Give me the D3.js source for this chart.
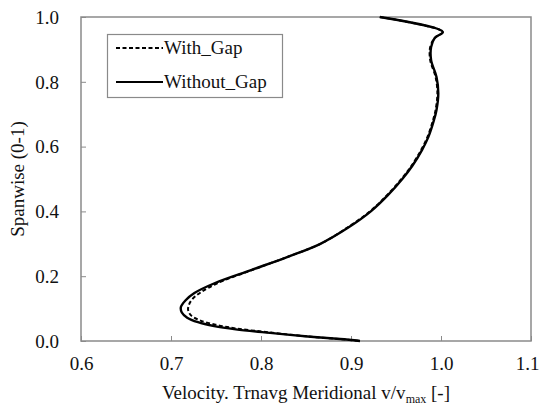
<!DOCTYPE html>
<html>
<head>
<meta charset="utf-8">
<script src="https://cdn.jsdelivr.net/npm/d3@7/dist/d3.min.js"></script>
<style>
  html, body { margin: 0; padding: 0; background: #fff; }
  svg text { font-family: "Times New Roman", Times, "Liberation Serif", "DejaVu Serif", serif; }
</style>
</head>
<body>
<svg id="chart" width="540" height="405"></svg>
<script>
// Spanwise positions (0 = hub, 1 = tip) and the normalised meridional velocity at each
const spanWithout = [1.000, 0.954, 0.935, 0.907, 0.867, 0.815, 0.765, 0.713, 0.680, 0.630, 0.590, 0.540, 0.500, 0.450, 0.400, 0.350, 0.300, 0.259, 0.219, 0.179, 0.148, 0.125, 0.105, 0.088, 0.072, 0.058, 0.046, 0.036, 0.025, 0.014, 0.006, 0.000];
const velWithout  = [0.932, 1.002, 0.993, 0.989, 0.989, 0.995, 0.997, 0.995, 0.992, 0.986, 0.979, 0.968, 0.957, 0.941, 0.922, 0.897, 0.866, 0.829, 0.789, 0.749, 0.726, 0.716, 0.711, 0.712, 0.718, 0.730, 0.748, 0.772, 0.810, 0.852, 0.888, 0.910];

const spanWith = [1.000, 0.954, 0.935, 0.907, 0.867, 0.815, 0.765, 0.713, 0.680, 0.630, 0.590, 0.540, 0.500, 0.450, 0.400, 0.350, 0.300, 0.259, 0.219, 0.179, 0.150, 0.130, 0.112, 0.096, 0.080, 0.064, 0.050, 0.038, 0.026, 0.014, 0.006, 0.000];
const velWith  = [0.932, 1.002, 0.993, 0.988, 0.988, 0.994, 0.996, 0.994, 0.991, 0.985, 0.978, 0.967, 0.956, 0.940, 0.921, 0.896, 0.866, 0.829, 0.790, 0.752, 0.733, 0.724, 0.720, 0.719, 0.722, 0.732, 0.750, 0.774, 0.811, 0.852, 0.888, 0.910];

const seriesNames = ["With_Gap", "Without_Gap"];
const xTicks = [0.6, 0.7, 0.8, 0.9, 1.0, 1.1];
const yTicks = [0.0, 0.2, 0.4, 0.6, 0.8, 1.0];

const svg = d3.select("#chart");
const plot = { left: 81, right: 531, top: 17, bottom: 341 };
const frameColor = "#8a8a8a";
const textColor = "#111";

const x = d3.scaleLinear().domain([0.6, 1.1]).range([plot.left, plot.right]);
const y = d3.scaleLinear().domain([0, 1]).range([plot.bottom, plot.top]);

// Axes: short inward ticks, labels placed outside the frame
const xAxis = d3.axisBottom(x).tickValues(xTicks).tickSizeInner(-5).tickSizeOuter(0)
  .tickPadding(13).tickFormat(d3.format(".1f"));
const yAxis = d3.axisLeft(y).tickValues(yTicks).tickSizeInner(-5).tickSizeOuter(0)
  .tickPadding(22).tickFormat(d3.format(".1f"));

const gx = svg.append("g").attr("transform", `translate(0,${plot.bottom})`).call(xAxis);
const gy = svg.append("g").attr("transform", `translate(${plot.left},0)`).call(yAxis);
[gx, gy].forEach(g => {
  g.attr("font-family", null).attr("font-size", 19);
  g.select(".domain").remove();
  g.selectAll(".tick line").attr("stroke", frameColor).attr("stroke-width", 1);
  g.selectAll(".tick text").attr("fill", textColor);
});
gx.selectAll(".tick text").attr("dy", "0.85em")
  .attr("dx", d => d === 1.1 ? -4 : 0);
gy.selectAll(".tick text").attr("dy", "0.33em");

// Plot frame
svg.append("rect")
  .attr("x", plot.left).attr("y", plot.top)
  .attr("width", plot.right - plot.left).attr("height", plot.bottom - plot.top)
  .attr("fill", "none").attr("stroke", frameColor).attr("stroke-width", 1.5);

// Profiles
const line = d3.line()
  .x(d => x(d[0]))
  .y(d => y(d[1]))
  .curve(d3.curveCatmullRom.alpha(0.5));

const withData = velWith.map((v, i) => [v, spanWith[i]]);
const withoutData = velWithout.map((v, i) => [v, spanWithout[i]]);

svg.append("path").datum(withoutData).attr("d", line)
  .attr("fill", "none").attr("stroke", "#000").attr("stroke-width", 2.4);
svg.append("path").datum(withData).attr("d", line)
  .attr("fill", "none").attr("stroke", "#000").attr("stroke-width", 2)
  .attr("stroke-dasharray", "4,2.5");

// Legend
const lg = svg.append("g");
lg.append("rect").attr("x", 107.5).attr("y", 34.5).attr("width", 175).attr("height", 63)
  .attr("fill", "#fff").attr("stroke", frameColor).attr("stroke-width", 1.2);
const legendRows = [
  { name: seriesNames[0], dash: "4,2.5", yy: 48 },
  { name: seriesNames[1], dash: null, yy: 82 }
];
legendRows.forEach(r => {
  lg.append("line").attr("x1", 116).attr("x2", 163).attr("y1", r.yy).attr("y2", r.yy)
    .attr("stroke", "#000").attr("stroke-width", 2)
    .attr("stroke-dasharray", r.dash);
  lg.append("text").attr("x", 164).attr("y", r.yy).attr("dy", "0.33em")
    .attr("font-size", 19).attr("fill", textColor).text(r.name);
});

// Axis titles
const xt = svg.append("text").attr("x", 306).attr("y", 399)
  .attr("text-anchor", "middle").attr("font-size", 19).attr("fill", textColor);
xt.append("tspan").text("Velocity. Trnavg Meridional v/v");
xt.append("tspan").attr("dy", 4).attr("font-size", 12).text("max");
xt.append("tspan").attr("dy", -4).text(" [-]");

svg.append("text")
  .attr("transform", `translate(24,${(plot.top + plot.bottom) / 2}) rotate(-90)`)
  .attr("text-anchor", "middle").attr("font-size", 19).attr("fill", textColor)
  .text("Spanwise (0-1)");
</script>
</body>
</html>
